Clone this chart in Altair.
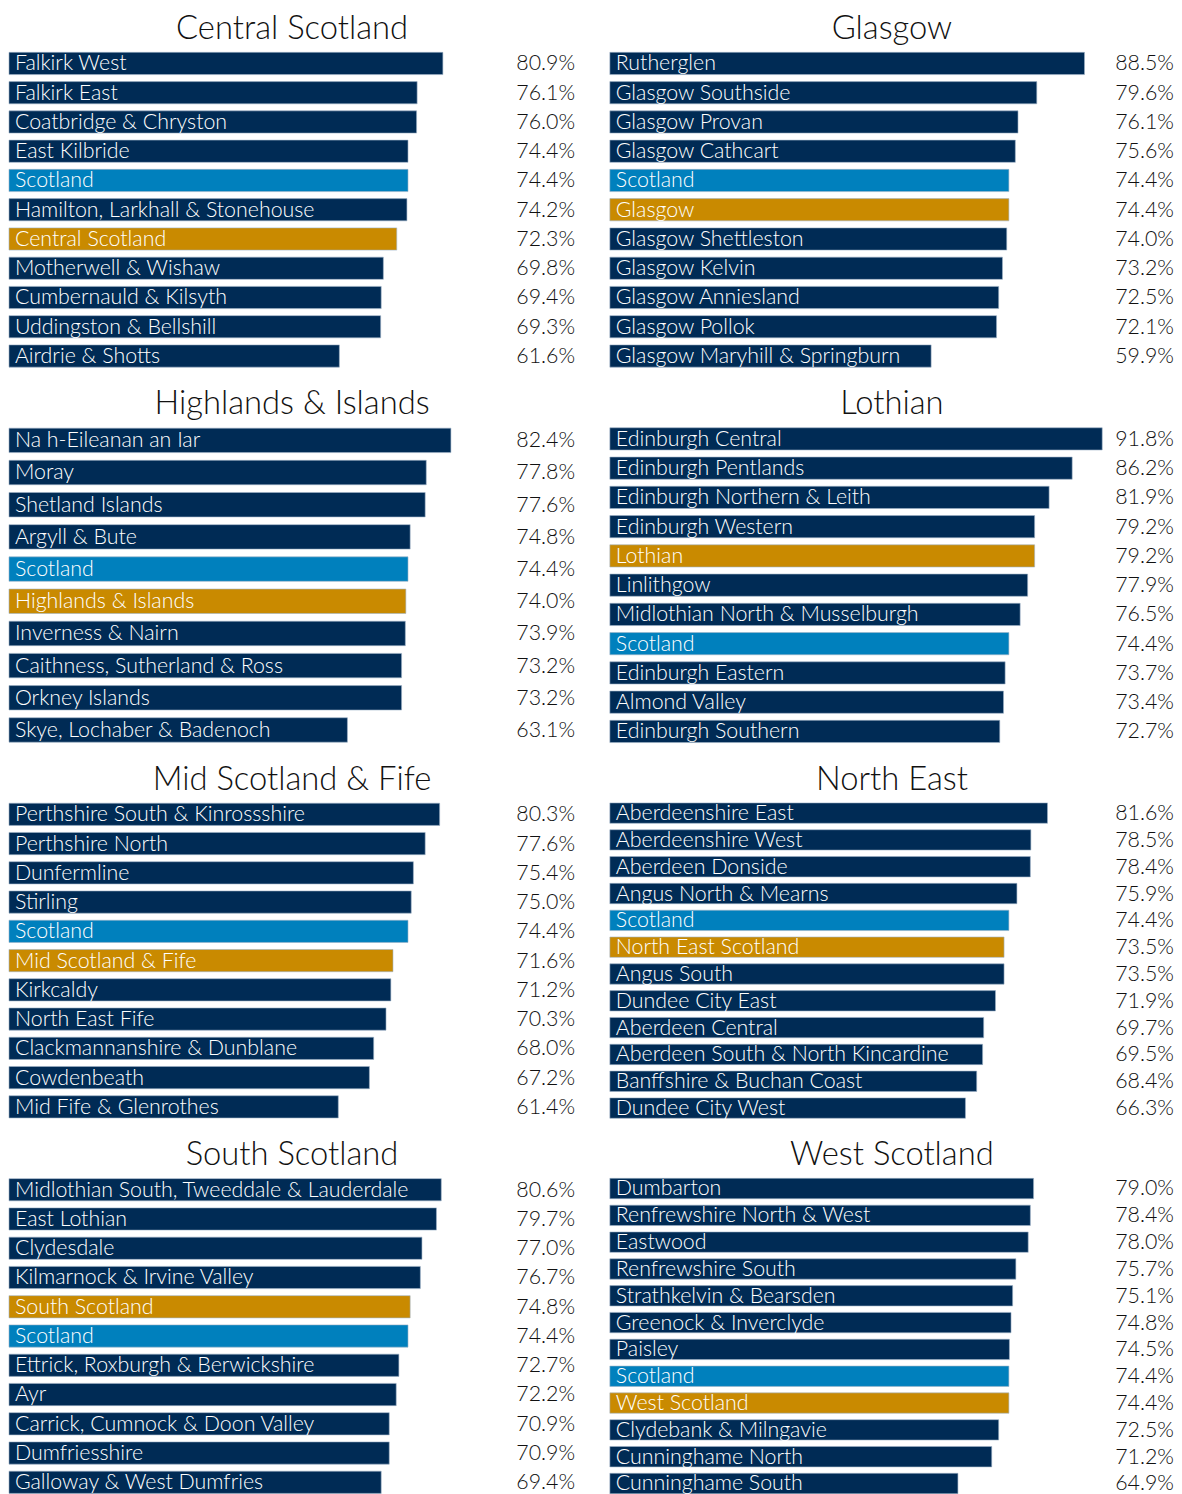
import altair as alt
import pandas as pd

NAVY = "#002b55"
BLUE = "#0080bd"
GOLD = "#c98a00"
FONT = "Lato"

central_names = ["Falkirk West", "Falkirk East", "Coatbridge & Chryston", "East Kilbride", "Scotland",
                 "Hamilton, Larkhall & Stonehouse", "Central Scotland", "Motherwell & Wishaw",
                 "Cumbernauld & Kilsyth", "Uddingston & Bellshill", "Airdrie & Shotts"]
central_vals = [80.9, 76.1, 76.0, 74.4, 74.4, 74.2, 72.3, 69.8, 69.4, 69.3, 61.6]

glasgow_names = ["Rutherglen", "Glasgow Southside", "Glasgow Provan", "Glasgow Cathcart", "Scotland",
                 "Glasgow", "Glasgow Shettleston", "Glasgow Kelvin", "Glasgow Anniesland",
                 "Glasgow Pollok", "Glasgow Maryhill & Springburn"]
glasgow_vals = [88.5, 79.6, 76.1, 75.6, 74.4, 74.4, 74.0, 73.2, 72.5, 72.1, 59.9]

highlands_names = ["Na h-Eileanan an Iar", "Moray", "Shetland Islands", "Argyll & Bute", "Scotland",
                   "Highlands & Islands", "Inverness & Nairn", "Caithness, Sutherland & Ross",
                   "Orkney Islands", "Skye, Lochaber & Badenoch"]
highlands_vals = [82.4, 77.8, 77.6, 74.8, 74.4, 74.0, 73.9, 73.2, 73.2, 63.1]

lothian_names = ["Edinburgh Central", "Edinburgh Pentlands", "Edinburgh Northern & Leith",
                 "Edinburgh Western", "Lothian", "Linlithgow", "Midlothian North & Musselburgh",
                 "Scotland", "Edinburgh Eastern", "Almond Valley", "Edinburgh Southern"]
lothian_vals = [91.8, 86.2, 81.9, 79.2, 79.2, 77.9, 76.5, 74.4, 73.7, 73.4, 72.7]

mid_names = ["Perthshire South & Kinrossshire", "Perthshire North", "Dunfermline", "Stirling",
             "Scotland", "Mid Scotland & Fife", "Kirkcaldy", "North East Fife",
             "Clackmannanshire & Dunblane", "Cowdenbeath", "Mid Fife & Glenrothes"]
mid_vals = [80.3, 77.6, 75.4, 75.0, 74.4, 71.6, 71.2, 70.3, 68.0, 67.2, 61.4]

ne_names = ["Aberdeenshire East", "Aberdeenshire West", "Aberdeen Donside", "Angus North & Mearns",
            "Scotland", "North East Scotland", "Angus South", "Dundee City East", "Aberdeen Central",
            "Aberdeen South & North Kincardine", "Banffshire & Buchan Coast", "Dundee City West"]
ne_vals = [81.6, 78.5, 78.4, 75.9, 74.4, 73.5, 73.5, 71.9, 69.7, 69.5, 68.4, 66.3]

south_names = ["Midlothian South, Tweeddale & Lauderdale", "East Lothian", "Clydesdale",
               "Kilmarnock & Irvine Valley", "South Scotland", "Scotland",
               "Ettrick, Roxburgh & Berwickshire", "Ayr", "Carrick, Cumnock & Doon Valley",
               "Dumfriesshire", "Galloway & West Dumfries"]
south_vals = [80.6, 79.7, 77.0, 76.7, 74.8, 74.4, 72.7, 72.2, 70.9, 70.9, 69.4]

west_names = ["Dumbarton", "Renfrewshire North & West", "Eastwood", "Renfrewshire South",
              "Strathkelvin & Bearsden", "Greenock & Inverclyde", "Paisley", "Scotland",
              "West Scotland", "Clydebank & Milngavie", "Cunninghame North", "Cunninghame South"]
west_vals = [79.0, 78.4, 78.0, 75.7, 75.1, 74.8, 74.5, 74.4, 74.4, 72.5, 71.2, 64.9]

panels = [
    ("Central Scotland", central_names, central_vals, "Central Scotland"),
    ("Glasgow", glasgow_names, glasgow_vals, "Glasgow"),
    ("Highlands & Islands", highlands_names, highlands_vals, "Highlands & Islands"),
    ("Lothian", lothian_names, lothian_vals, "Lothian"),
    ("Mid Scotland & Fife", mid_names, mid_vals, "Mid Scotland & Fife"),
    ("North East", ne_names, ne_vals, "North East Scotland"),
    ("South Scotland", south_names, south_vals, "South Scotland"),
    ("West Scotland", west_names, west_vals, "West Scotland"),
]

H = 324
PX_PER_PCT = 5.4


def make_panel(title, names, vals, region, W):
    kinds = ["s" if n == "Scotland" else ("r" if n == region else "c") for n in names]
    df = pd.DataFrame({
        "name": names,
        "value": vals,
        "kind": kinds,
        "order": list(range(len(names))),
        "label": [f"{v:.1f}%" for v in vals],
    })
    y = alt.Y("name:N", sort=alt.EncodingSortField("order"), axis=None,
              scale=alt.Scale(paddingInner=0.24, paddingOuter=0.12))
    bars = alt.Chart().mark_bar(stroke="#9fb3c8", strokeWidth=0.6).encode(
        x=alt.X("value:Q", axis=None,
                scale=alt.Scale(domain=[0, W / PX_PER_PCT], nice=False, zero=True)),
        y=y,
        color=alt.Color("kind:N", legend=None,
                        scale=alt.Scale(domain=["c", "s", "r"], range=[NAVY, BLUE, GOLD])),
    )
    names_t = alt.Chart().mark_text(align="left", baseline="middle", dy=1,
                                    color="white", font=FONT, fontSize=21.5,
                                    fontWeight=300).encode(
        x=alt.value(6), y=y, text="name:N")
    vals_t = alt.Chart().mark_text(align="right", baseline="middle", dy=1,
                                   color="#111111", font=FONT, fontSize=21.5,
                                   fontWeight=300).encode(
        x=alt.value(W), y=y, text="label:N")
    return alt.layer(bars, names_t, vals_t, data=df).properties(
        width=W, height=H,
        title=alt.TitleParams(title, fontSize=33, font=FONT, fontWeight=300,
                              color="#111111", anchor="middle", offset=3))


rows = []
for i in range(0, 8, 2):
    rows.append(alt.hconcat(make_panel(*panels[i], W=570),
                            make_panel(*panels[i + 1], W=568), spacing=34))

chart = alt.vconcat(*rows, spacing=18).properties(padding=0).configure_view(stroke=None)

chart.save("out.html", embed_options={"renderer": "svg", "actions": False})
